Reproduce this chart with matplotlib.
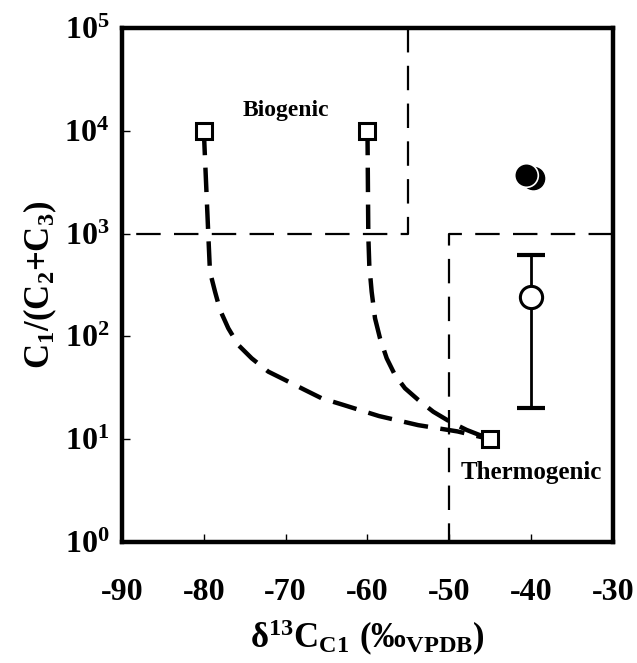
import matplotlib
matplotlib.use("Agg")
import matplotlib.pyplot as plt
import numpy as np

plt.rcParams['font.family'] = ['Liberation Serif', 'DejaVu Serif']
plt.rcParams['font.weight'] = 'bold'
plt.rcParams['mathtext.fontset'] = 'custom'
plt.rcParams['mathtext.rm'] = 'Liberation Serif:bold'
plt.rcParams['mathtext.bf'] = 'Liberation Serif:bold'
plt.rcParams['mathtext.it'] = 'Liberation Serif:bold'

# Mixing curve 1 (from -80 end-member to thermogenic end-member)
mix1_x = [-80.0, -79.45, -79.25, -78.63, -78.02, -77.01, -75.79, -74.15, -72.12,
          -70.08, -67.64, -65.6, -63.15, -58.6, -53.8, -49.0, -45.0]
mix1_y = [10000, 970, 426, 272, 181, 120, 82.5, 61.2, 45.4,
          37.7, 30.1, 25.0, 21.8, 16.8, 13.7, 11.9, 10]
# Mixing curve 2 (from -60 end-member)
mix2_x = [-60.0, -59.9, -59.78, -59.49, -59.08, -58.47, -57.65, -56.64, -55.42,
          -53.79, -51.96, -49.92, -47.88, -45.0]
mix2_y = [10000, 969, 495, 272, 150, 95.9, 61.2, 42.1, 31.3,
          24.1, 18.5, 14.8, 12.3, 10]

# End-members
end_x = [-80, -60, -45]
end_y = [10000, 10000, 10]

# Field boundaries
bio_x = [-55, -55, -90]
bio_y = [100000, 1000, 1000]
thermo_x = [-30, -50, -50]
thermo_y = [1000, 1000, 1]

# Samples
filled_x = [-39.8, -40.6]
filled_y = [3470, 3715]
open_x = [-40.0]
open_y = [242]
open_lo = [20]
open_hi = [620]

fig = plt.figure(figsize=(6.37, 6.63), dpi=100)
ax = fig.add_axes([0.1915, 0.1825, 0.9623 - 0.1915, 0.9578 - 0.1825])
ax.set_yscale('log')
ax.set_xlim(-90, -30)
ax.set_ylim(1, 1e5)

ax.plot(bio_x, bio_y, color='black', lw=1.6, dashes=(11, 6), zorder=2)
ax.plot(thermo_x, thermo_y, color='black', lw=1.6, dashes=(11, 6), zorder=2)

ax.plot(mix1_x, mix1_y, color='black', lw=3.2, dashes=(5.5, 2.8), zorder=3)
ax.plot(mix2_x, mix2_y, color='black', lw=3.2, dashes=(5.5, 2.8), zorder=3)

ax.plot(end_x, end_y, linestyle='none', marker='s', ms=11, mfc='white',
        mec='black', mew=2.2, zorder=5)

# error bar
yerr = [[open_y[0] - open_lo[0]], [open_hi[0] - open_y[0]]]
ax.errorbar(open_x, open_y, yerr=yerr, fmt='none', ecolor='black', elinewidth=2,
            capsize=10, capthick=3, zorder=4)
ax.plot(open_x, open_y, linestyle='none', marker='o', ms=16, mfc='white',
        mec='black', mew=2.2, zorder=5)

ax.plot(filled_x[0], filled_y[0], linestyle='none', marker='o', ms=16, mfc='black',
        mec='black', mew=1, zorder=5)
ax.plot(filled_x[1], filled_y[1], linestyle='none', marker='o', ms=17, mfc='black',
        mec='white', mew=1.2, zorder=6)

ax.text(-70, 15900, 'Biogenic', fontsize=17, fontweight='bold', ha='center', va='center')
ax.text(-40, 4.7, 'Thermogenic', fontsize=18, fontweight='bold', ha='center', va='center')

for s in ax.spines.values():
    s.set_linewidth(3.2)

ax.set_xticks([-90, -80, -70, -60, -50, -40, -30])
ax.set_xticklabels(['-90', '-80', '-70', '-60', '-50', '-40', '-30'])
ax.set_yticks([1, 10, 100, 1000, 10000, 100000])
ax.set_yticklabels([r'$\mathbf{10^{0}}$', r'$\mathbf{10^{1}}$', r'$\mathbf{10^{2}}$',
                    r'$\mathbf{10^{3}}$', r'$\mathbf{10^{4}}$', r'$\mathbf{10^{5}}$'])
ax.minorticks_off()
ax.tick_params(axis='both', direction='in', length=6, width=1, labelsize=23)
ax.tick_params(axis='x', pad=26)
ax.tick_params(axis='y', pad=9)

ax.set_xlabel(r'$\mathbf{δ^{13}C_{C1}\ (‰_{VPDB})}$', fontsize=25, labelpad=8)
ax.set_ylabel(r'$\mathbf{C_1/(C_2{+}C_3)}$', fontsize=25, labelpad=4)

fig.savefig('out.png', dpi=100)
